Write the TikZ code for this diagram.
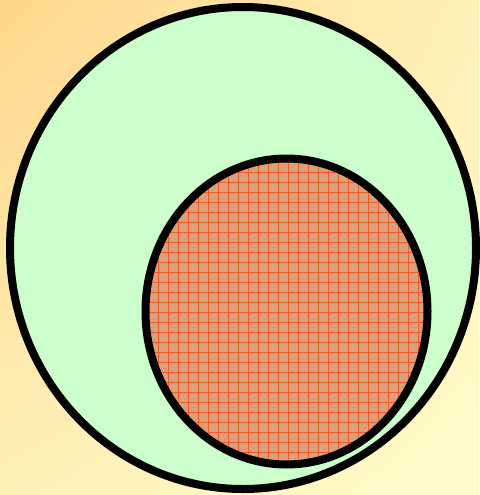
\documentclass[tikz,border=0pt]{standalone}
\usetikzlibrary{shadings,shapes.geometric}
\definecolor{bgA}{HTML}{FFD68A}
\definecolor{bgB}{HTML}{FFF0B8}
\definecolor{bgC}{HTML}{FFFCCB}
\definecolor{greenfill}{HTML}{CCFFCC}
\definecolor{salmon}{HTML}{DAA07A}
\definecolor{gridred}{HTML}{F25A2C}
\tikzset{
  ring/.style={draw=black, line width=8pt},
  gridline/.style={draw=gridred, line width=0.5pt}
}
\begin{document}
\begin{tikzpicture}[x=1pt,y=-1pt]
\useasboundingbox (0,0) rectangle (479,495);
\shade[upper left=bgA, upper right=bgB, lower left=bgB, lower right=bgC] (0,0) rectangle (479,495);
\node[ring, fill=greenfill, ellipse, minimum width=466pt, minimum height=482pt, inner sep=0pt] (outer) at (243,248) {};
\node[fill=salmon, ellipse, minimum width=282pt, minimum height=306pt, inner sep=0pt] (inner) at (286.5,311.5) {};
\begin{scope}
  \clip (286.5,311.5) ellipse [x radius=141pt, y radius=153pt];
  \foreach \x in {138,148,...,438} \draw[gridline] (\x,150) -- (\x,470);
  \foreach \y in {152,162,...,472} \draw[gridline] (140,\y) -- (432,\y);
\end{scope}
\draw[ring] (286.5,311.5) ellipse [x radius=141pt, y radius=153pt];
\end{tikzpicture}
\end{document}
